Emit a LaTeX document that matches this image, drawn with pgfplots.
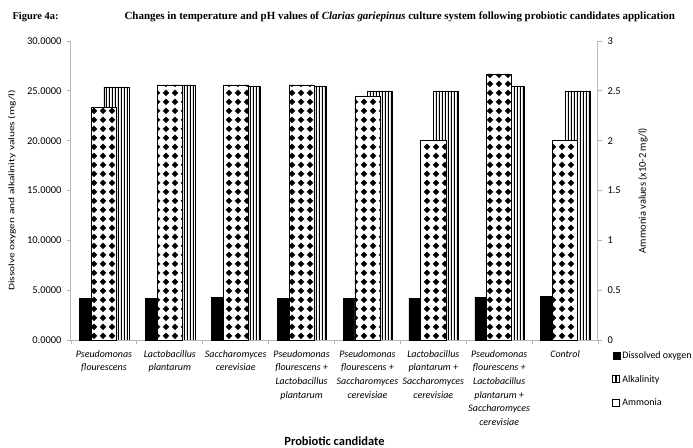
\documentclass[border=0pt]{standalone}
\usepackage{pgfplots}
\pgfplotsset{compat=1.18}
\usepackage{pgfplotstable}
\usepackage{fontspec}
\setmainfont{Carlito}
\newfontfamily\titlefont{Liberation Serif}
\usetikzlibrary{patterns.meta}

% diamond lattice used for alkalinity bars
\tikzdeclarepattern{
  name=diamondgrid,
  type=uncolored,
  bounding box={(0bp,0bp) and (9bp,9bp)},
  tile size={(9bp,9bp)},
  code={\fill (4.5bp,0.9bp) -- (8.1bp,4.5bp) -- (4.5bp,8.1bp) -- (0.9bp,4.5bp) -- cycle;}
}
% vertical stripes used for ammonia bars
\tikzdeclarepattern{
  name=vstripes,
  type=uncolored,
  bounding box={(0bp,0bp) and (3.2bp,40bp)},
  tile size={(3.2bp,40bp)},
  code={\fill (1bp,-1bp) rectangle (2.2bp,41bp);}
}

\pgfplotstableread{
x    do   alk   amm
0.5  4.2  23.3  2.54
1.5  4.2  25.6  2.56
2.5  4.3  25.6  2.55
3.5  4.2  25.6  2.55
4.5  4.2  24.5  2.50
5.5  4.2  20.0  2.50
6.5  4.3  26.7  2.55
7.5  4.4  20.0  2.50
}\probiotic

\pgfplotsset{
  base/.style={
    width=527bp, height=299bp, scale only axis,
    xmin=0, xmax=8,
    ybar,
    bar width=0.38,
  },
  dostyle/.style={draw=black, fill=black},
  alkstyle/.style={draw=black, line width=0.6pt, fill=white,
    postaction={pattern=diamondgrid, pattern color=black}},
  ammstyle/.style={draw=black, line width=0.6pt, fill=white,
    postaction={pattern=vstripes, pattern color=black}},
}

\begin{document}
\begin{tikzpicture}
\path[use as bounding box] (-71bp,-108bp) rectangle (622bp,340bp);

% primary axis: dissolved oxygen
\begin{axis}[base,
  ymin=0, ymax=30,
  axis x line*=bottom, axis y line*=left,
  axis line style={draw=gray!55, line width=1bp},
  ytick={0,5,...,30},
  /pgf/number format/fixed,
  /pgf/number format/fixed zerofill,
  /pgf/number format/precision=4,
  /pgf/number format/assume math mode=true,
  yticklabel style={font=\fontsize{10.5}{12}\selectfont, xshift=-2bp},
  xtick={0.5,1.5,...,7.5},
  xticklabels={
    {Pseudomonas\\flourescens},
    {Lactobacillus\\plantarum},
    {Saccharomyces\\cerevisiae},
    {Pseudomonas\\flourescens +\\Lactobacillus\\plantarum},
    {Pseudomonas\\flourescens +\\Saccharomyces\\cerevisiae},
    {Lactobacillus\\plantarum +\\Saccharomyces\\cerevisiae},
    {Pseudomonas\\flourescens +\\Lactobacillus\\plantarum +\\Saccharomyces\\cerevisiae},
    {Control}},
  xticklabel style={align=center, font=\itshape\fontsize{10}{13.6}\selectfont, yshift=-3bp},
  major x tick style={draw=none},
  minor xtick={0,1,...,8},
  minor x tick style={draw=gray!60, line width=0.8bp},
  y tick style={draw=gray!60, line width=0.8bp},
  tick align=outside,
  major tick length=4bp, minor tick length=4bp,
  ylabel={\scalebox{1.35}[1]{Dissolve oxygen and alkalinity values (mg/l)}},
  ylabel style={font=\fontsize{8.5}{9}\selectfont, at={(rel axis cs:0,0.5)}, anchor=center, yshift=59bp},
  xlabel={\bfseries Probiotic candidate},
  xlabel style={font=\fontsize{12.5}{14}\selectfont, at={(axis description cs:0.5,0)}, anchor=center, yshift=-101bp},
]
\addplot[dostyle, bar shift=-0.18] table[x=x, y=do] {\probiotic};
\end{axis}

% secondary axis: ammonia
\begin{axis}[base,
  ymin=0, ymax=3,
  axis x line=none, axis y line*=right,
  axis line style={draw=gray!55, line width=1bp},
  ytick={0,0.5,...,3},
  /pgf/number format/fixed,
  /pgf/number format/assume math mode=true,
  yticklabel style={font=\fontsize{10.5}{12}\selectfont, xshift=2bp},
  y tick style={draw=gray!60, line width=0.8bp},
  tick align=outside, major tick length=4bp,
  ylabel={Ammonia values (x10-2 mg/l)},
  ylabel style={font=\fontsize{10.5}{12}\selectfont, at={(rel axis cs:1,0.5)}, anchor=center, yshift=-45bp},
]
\addplot[ammstyle, bar shift=0.19] table[x=x, y=amm] {\probiotic};
\end{axis}

% alkalinity on the primary scale, drawn in front
\begin{axis}[base,
  ymin=0, ymax=30,
  hide axis,
  legend style={at={(rel axis cs:1,0)}, anchor=north west, xshift=14bp, yshift=-9bp,
    draw=none, fill=none, inner sep=0pt, row sep=11.5bp,
    font=\fontsize{10}{12}\selectfont},
  legend cell align=left,
  legend image code/.code={\draw[#1] (0bp,-3.5bp) rectangle (7bp,3.5bp);},
]
\addlegendimage{draw=black, fill=black}
\addlegendentry{Dissolved oxygen}
\addplot[alkstyle, bar shift=0, forget plot] table[x=x, y=alk] {\probiotic};
\addlegendimage{draw=black, line width=0.8pt, fill=white, postaction={pattern=vstripes, pattern color=black}}
\addlegendentry{Alkalinity}
\addlegendimage{draw=black, line width=1.2pt, fill=white}
\addlegendentry{Ammonia}
\end{axis}

% heading
\node[anchor=west, font=\titlefont\bfseries\fontsize{10.5}{12}\selectfont] at (-62bp,323bp) {Figure 4a:};
\node[anchor=west, font=\titlefont\bfseries\fontsize{11}{13}\selectfont] at (50bp,323bp)
  {Changes in temperature and pH values of \textit{Clarias gariepinus} culture system following probiotic candidates application};
\end{tikzpicture}
\end{document}
